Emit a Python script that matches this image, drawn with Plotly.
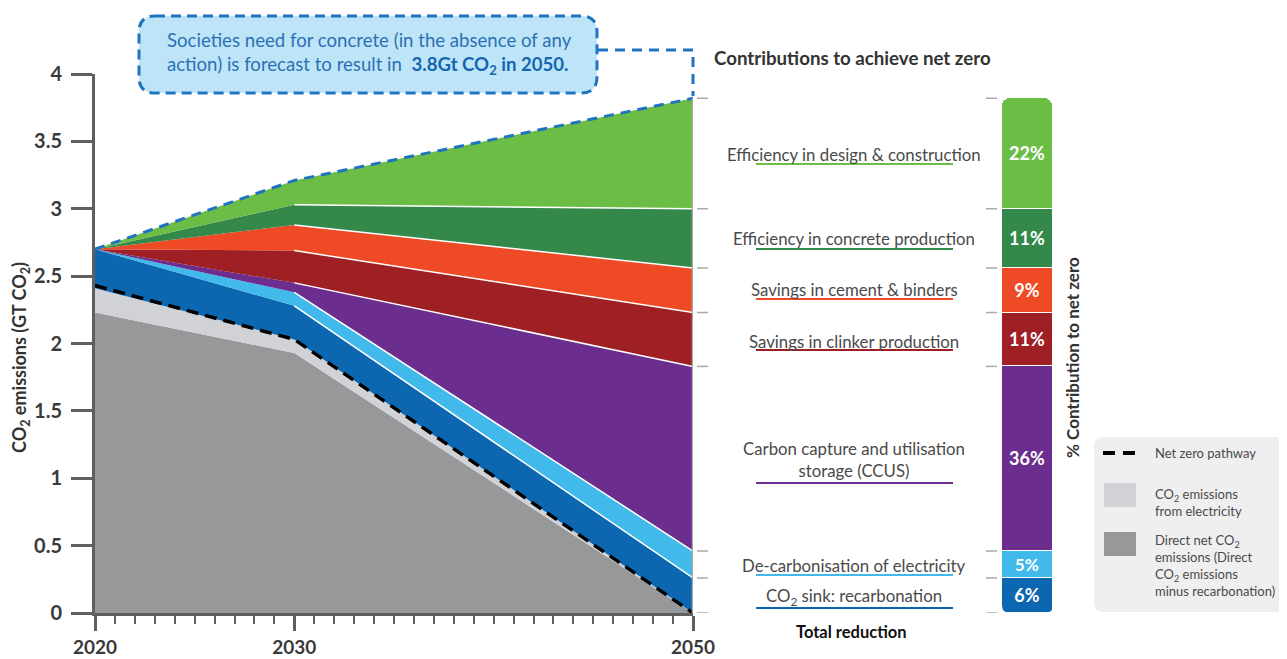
import plotly.graph_objects as go

# ---------------- data ----------------
years = [2020, 2030, 2050]
direct_net = [2.23, 1.93, 0.0]        # Direct net CO2 emissions
electricity = [0.18, 0.10, 0.0]       # CO2 emissions from electricity
recarbonation = [0.29, 0.25, 0.26]    # CO2 sink: recarbonation
decarb_elec = [0.0, 0.10, 0.20]       # De-carbonisation of electricity
ccus = [0.0, 0.07, 1.37]              # Carbon capture and utilisation storage
clinker = [0.0, 0.24, 0.40]           # Savings in clinker production
cement = [0.0, 0.19, 0.33]            # Savings in cement & binders
concrete_eff = [0.0, 0.15, 0.44]      # Efficiency in concrete production
design_eff = [0.0, 0.18, 0.82]        # Efficiency in design & construction
net_zero = [2.43, 2.03, 0.0]          # Net zero pathway

reduction_names = ["CO<sub>2</sub> sink: recarbonation", "De-carbonisation of electricity",
                   "Carbon capture and utilisation<br>storage (CCUS)", "Savings in clinker production",
                   "Savings in cement & binders", "Efficiency in concrete production",
                   "Efficiency in design & construction"]
reduction_pct = ["6%", "5%", "36%", "11%", "9%", "11%", "22%"]

y_ticks = [0, 0.5, 1, 1.5, 2, 2.5, 3, 3.5, 4]
y_ticktext = ["0", "0.5", "1", "1.5", "2", "2.5", "3", "3.5", "4"]
x_ticks = [2020, 2030, 2050]

# ---------------- styling ----------------
OFF = 8                      # page body margin
W, H = 1287 - OFF, 659 - OFF
FONT = "Lato"
C_GRAY = "#97989a"
C_LGRAY = "#d1d2d6"
C_BLUE = "#0d66b0"
C_LBLUE = "#41b9ea"
C_PURPLE = "#6b2d8e"
C_DRED = "#9e1f24"
C_ORANGE = "#ef4a26"
C_DGREEN = "#33884a"
C_GREEN = "#6bbd45"
AXIS = "#5f5f5f"


def X(px):
    return (px - OFF) / W


def Y(py):
    return 1 - (py - OFF) / H


layers = [
    (direct_net, C_GRAY), (electricity, C_LGRAY), (recarbonation, C_BLUE),
    (decarb_elec, C_LBLUE), (ccus, C_PURPLE), (clinker, C_DRED),
    (cement, C_ORANGE), (concrete_eff, C_DGREEN), (design_eff, C_GREEN),
]
reductions = layers[2:]

fig = go.Figure()

for vals, col in layers:
    fig.add_trace(go.Scatter(x=years, y=vals, stackgroup="em", mode="lines",
                             line=dict(width=0, color=col), fillcolor=col,
                             hoverinfo="skip", showlegend=False))

# cumulative tops
cum = []
run = [0.0, 0.0, 0.0]
for vals, col in layers:
    run = [a + b for a, b in zip(run, vals)]
    cum.append(run)

# white separators between reduction bands (2030-2050)
for i in range(2, len(layers) - 1):
    fig.add_trace(go.Scatter(x=years[1:], y=cum[i][1:], mode="lines",
                             line=dict(color="white", width=1.5),
                             hoverinfo="skip", showlegend=False))

# business-as-usual top (dashed blue)
fig.add_trace(go.Scatter(x=years, y=cum[-1], mode="lines",
                         line=dict(color="#1f74c0", width=3, dash="10px,7px"),
                         hoverinfo="skip", showlegend=False, cliponaxis=False))
# net zero pathway
fig.add_trace(go.Scatter(x=years, y=net_zero, mode="lines",
                         line=dict(color="black", width=3.5, dash="12px,7px"),
                         hoverinfo="skip", showlegend=False, cliponaxis=False))

# contribution bar
for (vals, col), pct in zip(reductions, reduction_pct):
    fig.add_trace(go.Bar(x=[0], y=[vals[-1]], xaxis="x2", yaxis="y",
                         marker=dict(color=col, line=dict(color="white", width=1)),
                         text=[pct], textposition="inside", insidetextanchor="middle",
                         textangle=0, cliponaxis=False,
                         textfont=dict(color="white", size=18, family=FONT, weight="bold"),
                         hoverinfo="skip", showlegend=False))

shapes = []
annotations = []


def ann(px, py, text, size=15, color="#4a4a4a", bold=False, xanchor="center",
        align="center", angle=0):
    annotations.append(dict(x=X(px), y=Y(py), xref="paper", yref="paper", text=text,
                            showarrow=False, xanchor=xanchor, yanchor="middle", align=align,
                            textangle=angle,
                            font=dict(family=FONT, size=size, color=color,
                                      weight="bold" if bold else "normal")))


def rrect(x0, y0, x1, y1, r):
    pts = [
        ("M", [(x0 + r, y0)]), ("L", [(x1 - r, y0)]), ("Q", [(x1, y0), (x1, y0 + r)]),
        ("L", [(x1, y1 - r)]), ("Q", [(x1, y1), (x1 - r, y1)]), ("L", [(x0 + r, y1)]),
        ("Q", [(x0, y1), (x0, y1 - r)]), ("L", [(x0, y0 + r)]), ("Q", [(x0, y0), (x0 + r, y0)]),
    ]
    s = ""
    for cmd, ps in pts:
        s += cmd + " " + " ".join(f"{X(a):.5f},{Y(b):.5f}" for a, b in ps) + " "
    return s + "Z"


# callout box + connector
shapes.append(dict(type="path", xref="paper", yref="paper", path=rrect(139, 16, 597, 93, 16),
                   fillcolor="#bde5f7", line=dict(color="#1f74c0", width=3, dash="10px,6px"),
                   layer="above"))
shapes.append(dict(type="path", xref="paper", yref="paper",
                   path=f"M {X(598)},{Y(50)} L {X(693)},{Y(50)} L {X(693)},{Y(96)}",
                   line=dict(color="#1f74c0", width=3, dash="10px,7px"), layer="above"))
ann(165, 54, "Societies need for concrete (in the absence of any<br>"
             "action) is forecast to result in  <b><span style='color:#1565b0'>3.8Gt CO<sub>2</sub> in 2050.</span></b>",
    size=18.6, color="#2b70b5", xanchor="left", align="left")

# 2050 edge line
shapes.append(dict(type="line", xref="x", yref="y", x0=2050, x1=2050, y0=0, y1=cum[-1][-1],
                   line=dict(color="#a9a9a9", width=2.5), layer="above"))

# right tick marks at band boundaries
levels = [0.0] + [c[-1] for c in cum[2:]]
for v in levels:
    for a, b in [(697, 708), (986, 997)]:
        shapes.append(dict(type="line", xref="paper", yref="y", x0=X(a), x1=X(b), y0=v, y1=v,
                           line=dict(color="#aaaaaa", width=1.5)))

# bottom rounded corners of bar (white masks)
r = 8
bx0, bx1, by = 1002, 1053, 613
shapes.append(dict(type="path", xref="paper", yref="paper",
                   path=f"M {X(bx0)},{Y(by)} L {X(bx0)},{Y(by - r)} Q {X(bx0)},{Y(by)} {X(bx0 + r)},{Y(by)} Z",
                   fillcolor="white", line=dict(width=0), layer="above"))
shapes.append(dict(type="path", xref="paper", yref="paper",
                   path=f"M {X(bx1)},{Y(by)} L {X(bx1)},{Y(by - r)} Q {X(bx1)},{Y(by)} {X(bx1 - r)},{Y(by)} Z",
                   fillcolor="white", line=dict(width=0), layer="above"))

# band labels + underlines
label_pos = [(597, 608), (565, 575), (460, 483), (341, 350), (289, 299), (238, 249), (154, 164)]
for name, (vals, col), (ty, uy) in zip(reduction_names, reductions, label_pos):
    ann(854, ty, name, size=16.8)
    shapes.append(dict(type="line", xref="paper", yref="paper", x0=X(756), x1=X(953),
                       y0=Y(uy), y1=Y(uy), line=dict(color=col, width=2)))

ann(712, 58, "Contributions to achieve net zero", size=18.7, color="#333333", bold=True, xanchor="left")
ann(852, 632, "Total reduction", size=16.5, color="#111111", bold=True)
ann(1072, 358, "% Contribution to net zero", size=17, color="#333333", bold=True, angle=-90)
ann(20, 358, "CO<sub>2</sub> emissions (GT CO<sub>2</sub>)", size=18, color="#333333", bold=True, angle=-90)

# legend box
shapes.append(dict(type="path", xref="paper", yref="paper", path=rrect(1094, 437, 1300, 612, 10),
                   fillcolor="#efefef", line=dict(width=0)))
shapes.append(dict(type="line", xref="paper", yref="paper", x0=X(1103), x1=X(1137), y0=Y(453), y1=Y(453),
                   line=dict(color="black", width=4, dash="12px,8px")))
shapes.append(dict(type="rect", xref="paper", yref="paper", x0=X(1104), x1=X(1136), y0=Y(483), y1=Y(507),
                   fillcolor=C_LGRAY, line=dict(width=0)))
shapes.append(dict(type="rect", xref="paper", yref="paper", x0=X(1104), x1=X(1136), y0=Y(532), y1=Y(556),
                   fillcolor=C_GRAY, line=dict(width=0)))
ann(1153, 453, "Net zero pathway", size=13, xanchor="left", align="left")
ann(1153, 502, "CO<sub>2</sub> emissions<br>from electricity", size=13, xanchor="left", align="left")
ann(1153, 565, "Direct net CO<sub>2</sub><br>emissions (Direct<br>CO<sub>2</sub> emissions<br>minus recarbonation)",
    size=13, xanchor="left", align="left")

fig.update_layout(
    width=W, height=H, autosize=False,
    margin=dict(l=0, r=0, t=0, b=0, autoexpand=False),
    paper_bgcolor="white", plot_bgcolor="white",
    showlegend=False, barmode="stack", bargap=0, barcornerradius=9,
    font=dict(family=FONT),
    xaxis=dict(domain=[X(95), X(693)], range=[2020, 2050], anchor="y", automargin=False,
               tickmode="array", tickvals=x_ticks, ticktext=[str(v) for v in x_ticks],
               ticks="outside", ticklen=15, tickwidth=3, tickcolor=AXIS,
               showline=True, linecolor=AXIS, linewidth=3, showgrid=False, zeroline=False,
               ticklabelstandoff=0,
               tickfont=dict(family=FONT, size=19, color="#3a3a3a", weight="bold"),
               minor=dict(tickmode="array", tickvals=[v for v in range(2021, 2050) if v != 2030],
                          ticks="outside", ticklen=8, tickwidth=2, tickcolor=AXIS, showgrid=False)),
    yaxis=dict(domain=[Y(613), Y(74)], range=[0, 4], anchor="x", automargin=False,
               tickmode="array", tickvals=y_ticks, ticktext=y_ticktext,
               ticks="outside", ticklen=21, tickwidth=3, tickcolor=AXIS,
               showline=True, linecolor=AXIS, linewidth=3, showgrid=False, zeroline=False,
               ticklabelstandoff=5,
               tickfont=dict(family=FONT, size=20, color="#3a3a3a", weight="bold")),
    xaxis2=dict(domain=[X(1002), X(1053)], range=[-0.5, 0.5], anchor="y", visible=False,
                automargin=False),
    shapes=shapes,
    annotations=annotations,
)

fig.write_html("out.html")
